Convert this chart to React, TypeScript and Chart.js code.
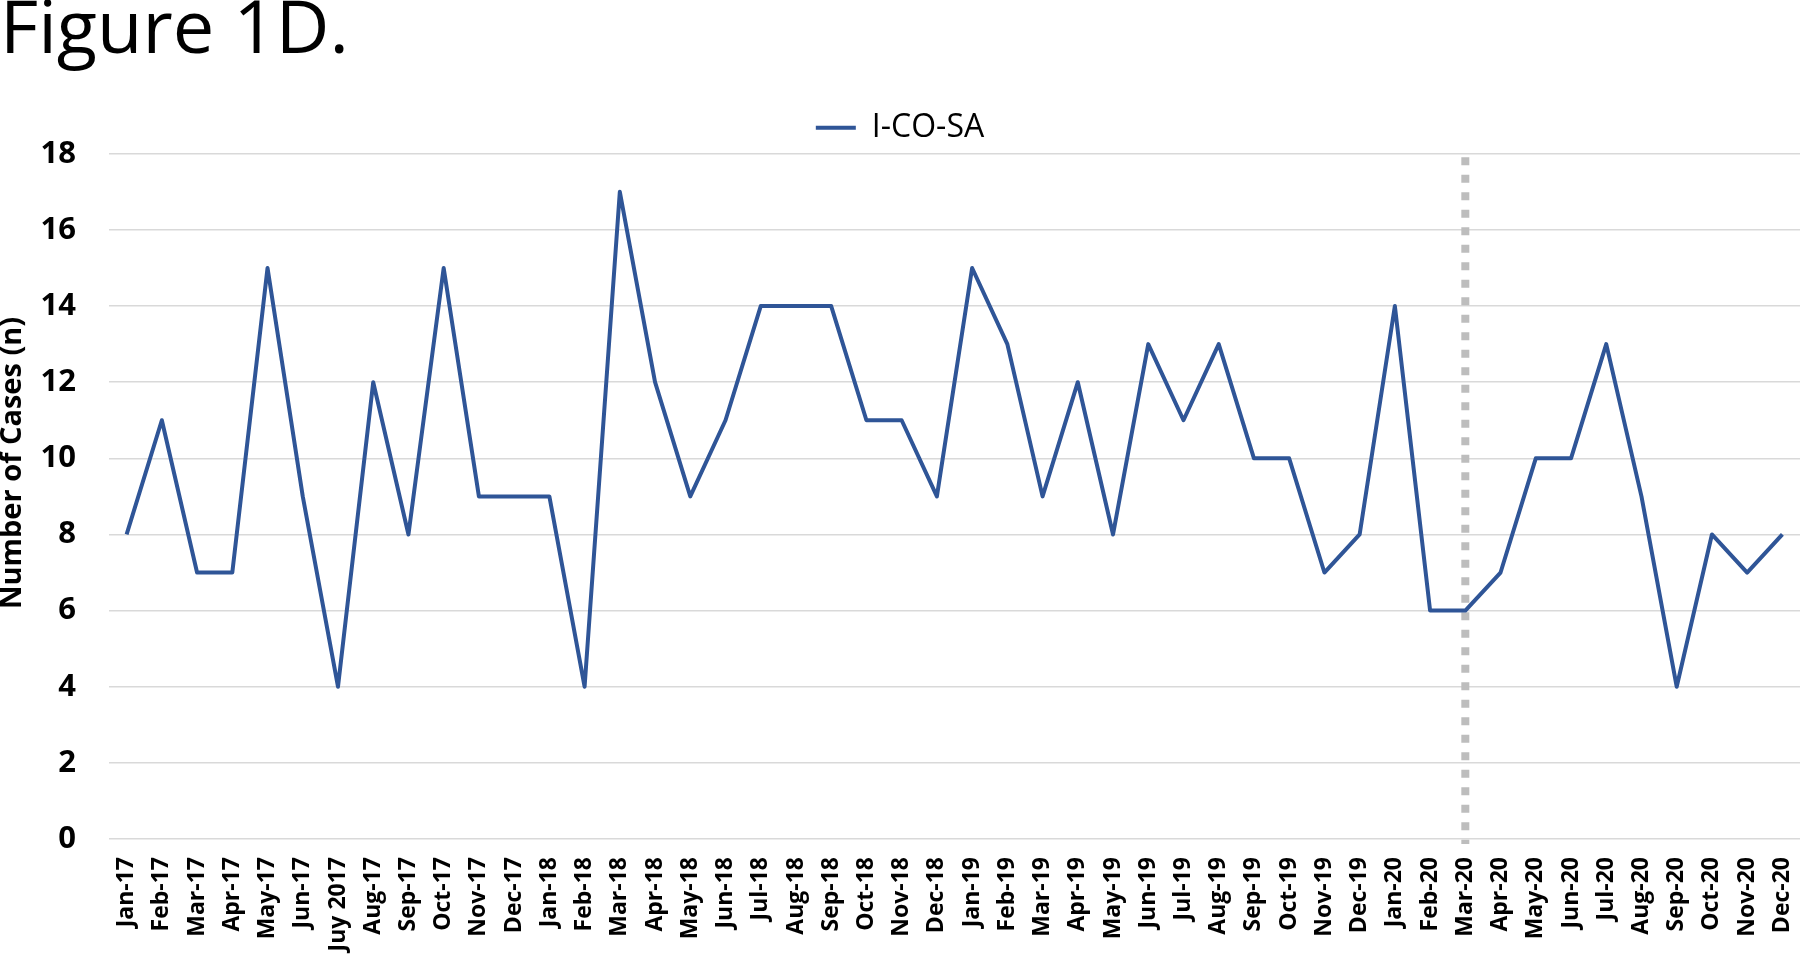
import React, { useEffect, useRef } from "react";
import { Chart, registerables } from "chart.js";

Chart.register(...registerables);

const categories: string[] = [
  "Jan-17", "Feb-17", "Mar-17", "Apr-17", "May-17", "Jun-17", "Juy 2017", "Aug-17", "Sep-17", "Oct-17", "Nov-17", "Dec-17",
  "Jan-18", "Feb-18", "Mar-18", "Apr-18", "May-18", "Jun-18", "Jul-18", "Aug-18", "Sep-18", "Oct-18", "Nov-18", "Dec-18",
  "Jan-19", "Feb-19", "Mar-19", "Apr-19", "May-19", "Jun-19", "Jul-19", "Aug-19", "Sep-19", "Oct-19", "Nov-19", "Dec-19",
  "Jan-20", "Feb-20", "Mar-20", "Apr-20", "May-20", "Jun-20", "Jul-20", "Aug-20", "Sep-20", "Oct-20", "Nov-20", "Dec-20",
];

const icoSaCases: number[] = [
  8, 11, 7, 7, 15, 9, 4, 12, 8, 15, 9, 9,
  9, 4, 17, 12, 9, 11, 14, 14, 14, 11, 11, 9,
  15, 13, 9, 12, 8, 13, 11, 13, 10, 10, 7, 8,
  14, 6, 6, 7, 10, 10, 13, 9, 4, 8, 7, 8,
];

const seriesName = "I-CO-SA";
const yAxisTitle = "Number of Cases (n)";
const figureTitle = "Figure 1D.";
const markerCategory = "Mar-20";
const yMin = 0;
const yMax = 18;
const yStep = 2;

export default function App() {
  const ref = useRef<HTMLCanvasElement | null>(null);

  useEffect(() => {
    if (!ref.current) return;

    const markerPlugin = {
      id: "markerLine",
      beforeDatasetsDraw(chart: any) {
        const ctx = chart.ctx;
        const xs = chart.scales.x;
        const x = xs.getPixelForValue(categories.indexOf(markerCategory));
        const { top, bottom } = chart.chartArea;
        ctx.save();
        ctx.strokeStyle = "#bdbdbd";
        ctx.lineWidth = 8;
        ctx.setLineDash([8, 9.5]);
        ctx.beginPath();
        ctx.moveTo(x, top + 3.5);
        ctx.lineTo(x, bottom + 5);
        ctx.stroke();
        ctx.restore();
      },
    };

    const yTitlePlugin = {
      id: "yTitle",
      afterDraw(chart: any) {
        const ctx = chart.ctx;
        ctx.save();
        ctx.translate(13, 463);
        ctx.rotate(-Math.PI / 2);
        ctx.textAlign = "center";
        ctx.textBaseline = "middle";
        ctx.fillStyle = "#000";
        ctx.font = "bold 29px 'Open Sans'";
        ctx.fillText(yAxisTitle, 0, 0);
        ctx.restore();
      },
    };

    const chart = new Chart(ref.current, {
      type: "line",
      data: {
        labels: categories,
        datasets: [
          {
            label: seriesName,
            data: icoSaCases,
            borderColor: "#2f5597",
            backgroundColor: "#2f5597",
            borderWidth: 4,
            borderJoinStyle: "round",
            pointRadius: 0,
            tension: 0,
            fill: false,
          },
        ],
      },
      options: {
        responsive: false,
        animation: false,
        devicePixelRatio: 1,
        layout: { padding: 0 },
        plugins: {
          title: {
            display: true,
            text: figureTitle,
            align: "start",
            color: "#000",
            font: { family: "Open Sans", size: 74, weight: "normal", lineHeight: 0.72 },
            padding: { top: 5, bottom: 43.5 },
          },
          legend: {
            display: true,
            position: "top",
            align: "center",
            labels: {
              usePointStyle: true,
              pointStyle: "line",
              pointStyleWidth: 40,
              color: "#000",
              font: { family: "Open Sans", size: 32 },
              padding: 10,
            },
          },
          tooltip: { enabled: false },
        },
        scales: {
          x: {
            offset: true,
            grid: { display: false, drawTicks: false },
            border: { display: false },
            ticks: {
              autoSkip: false,
              minRotation: 90,
              maxRotation: 90,
              color: "#000",
              font: { family: "Open Sans", size: 23, weight: "bold" },
              padding: 18,
            },
            afterFit(scale: any) {
              scale.height = 116;
              scale.paddingLeft = 0;
              scale.paddingRight = 0;
            },
          },
          y: {
            min: yMin,
            max: yMax,
            ticks: {
              stepSize: yStep,
              color: "#000",
              font: { family: "Open Sans", size: 31, weight: "bold" },
              padding: 33,
            },
            grid: { color: "#d9d9d9", lineWidth: 1.5, drawTicks: false },
            border: { display: false },
            title: { display: false },
            afterFit(scale: any) {
              scale.width = 109;
            },
          },
        },
      },
      plugins: [markerPlugin, yTitlePlugin],
    } as any);

    return () => chart.destroy();
  }, []);

  return (
    <div style={{ position: "fixed", left: 0, top: 0, width: 1800, height: 955, background: "#fff" }}>
      <canvas ref={ref} width={1800} height={955} style={{ display: "block", width: 1800, height: 955 }} />
    </div>
  );
}
